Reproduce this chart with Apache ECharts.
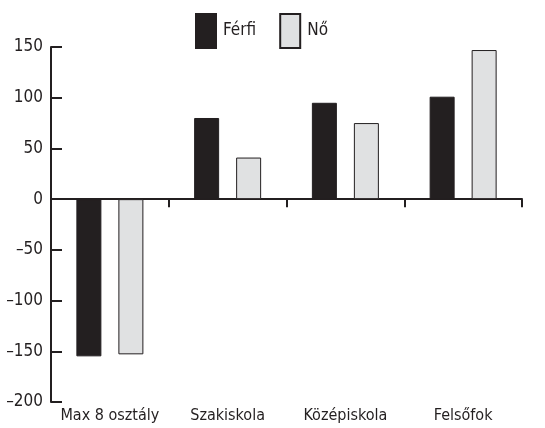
<!DOCTYPE html>
<html>
<head>
<meta charset="utf-8">
<script src="https://cdn.jsdelivr.net/npm/echarts@6/dist/echarts.min.js"></script>
<style>html,body{margin:0;padding:0;background:#fff}#c{width:545px;height:428px}</style>
</head>
<body>
<div id="c"></div>
<script>
var categories = ['Max 8 osztály', 'Szakiskola', 'Középiskola', 'Felsőfok'];
var ferfi = [-155, 80, 95, 101];
var no = [-153, 41, 75, 147];
var seriesNames = ['Férfi', 'Nő'];
var yTickLabels = ['–200', '–150', '–100', '–50', '0', '50', '100', '150'];
var yMin = -200, yMax = 150, yStep = 50;

var FONT = '"DejaVu Sans Condensed", "Liberation Sans Narrow", sans-serif';
var INK = '#231f20';
var chart = echarts.init(document.getElementById('c'), null, {renderer: 'canvas'});
chart.setOption({
  animation: false,
  textStyle: {fontFamily: FONT},
  legend: {
    data: seriesNames,
    left: 195, top: 13, padding: 0,
    itemWidth: 20, itemHeight: 34, itemGap: 23,
    icon: 'rect',
    textStyle: {fontFamily: FONT, fontSize: 17, color: INK, padding: [0, 0, 0, 2]}
  },
  grid: {left: 51, right: 23, top: 47, bottom: 26, containLabel: false, outerBoundsMode: 'none'},
  xAxis: [{
    type: 'category', data: categories,
    axisLine: {onZero: true, lineStyle: {color: INK, width: 2}},
    axisTick: {show: true, length: 8, inside: false, lineStyle: {color: INK, width: 2}},
    axisLabel: {show: false}
  }, {
    type: 'category', data: categories, position: 'bottom',
    axisLine: {show: false, onZero: false},
    axisTick: {show: false},
    axisLabel: {show: true, interval: 0, fontFamily: FONT, fontSize: 16, color: INK, margin: 6}
  }],
  yAxis: {
    type: 'value', min: yMin, max: yMax, interval: yStep,
    axisLine: {show: true, lineStyle: {color: INK, width: 2}},
    axisTick: {show: true, inside: true, length: 11, lineStyle: {color: INK, width: 2}},
    splitLine: {show: false},
    axisLabel: {
      fontFamily: FONT, fontSize: 17, color: INK, margin: 8,
      formatter: function (v) { return yTickLabels[Math.round((v - yMin) / yStep)]; }
    }
  },
  series: [{
    name: seriesNames[0], type: 'bar', data: ferfi, xAxisIndex: 0,
    barWidth: 25, barGap: '68%',
    itemStyle: {color: INK, borderColor: INK, borderWidth: 1}
  }, {
    name: seriesNames[1], type: 'bar', data: no, xAxisIndex: 0,
    barWidth: 25, barGap: '68%',
    itemStyle: {color: '#e0e1e2', borderColor: INK, borderWidth: 1}
  }]
});
</script>
</body>
</html>
